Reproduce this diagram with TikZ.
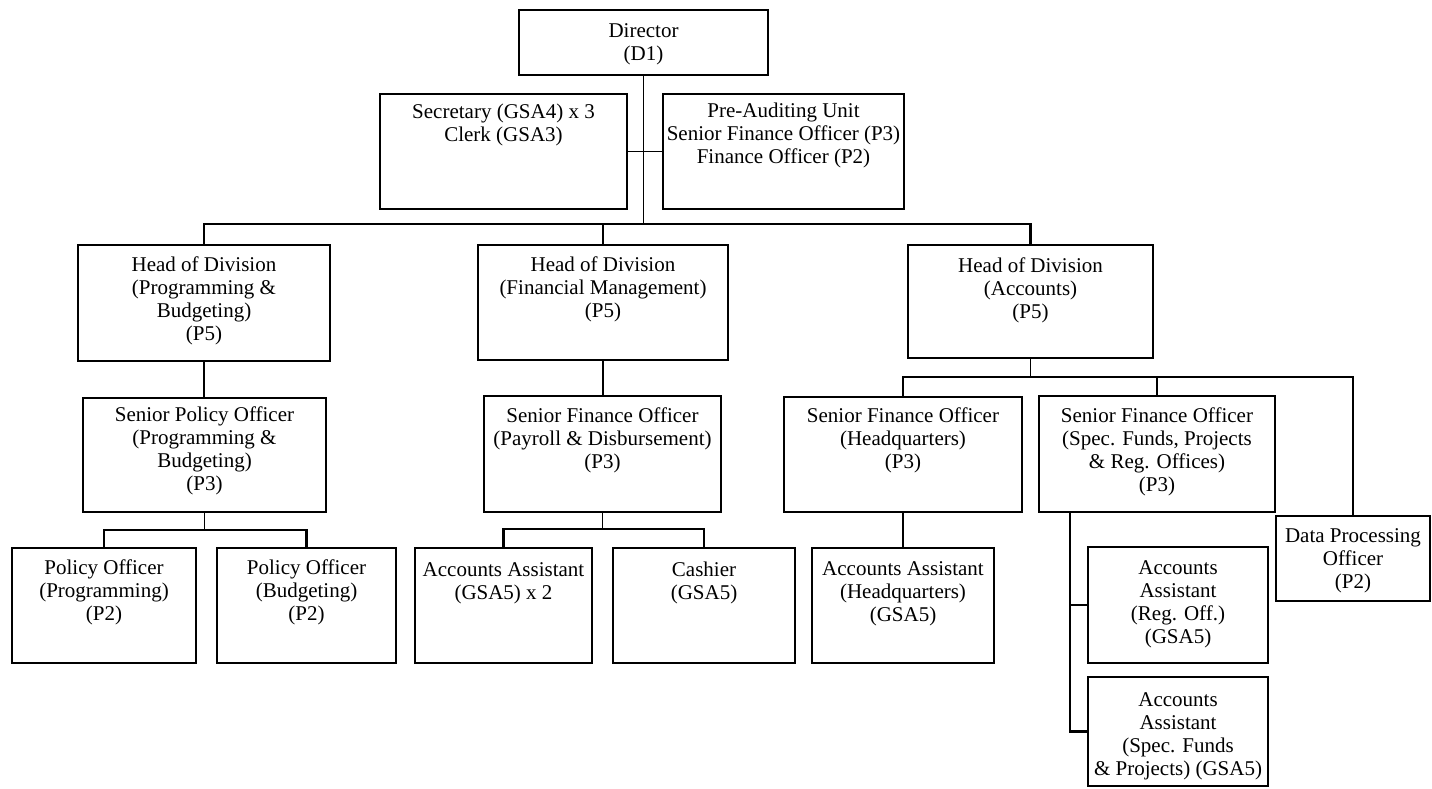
\documentclass[tikz,border=0pt]{standalone}
\usepackage{fontspec}
\setmainfont{Liberation Serif}
\tikzset{
  box/.style={draw, line width=2pt, inner sep=0pt, outer sep=0pt},
  txt/.style={align=center, inner sep=0pt, anchor=north, font=\fontsize{21}{23}\selectfont},
  conn/.style={line width=1.5pt},
  busline/.style={line width=2.2pt},
}
\newcommand\orgbox[7]{%
  \node[box, minimum width={#4-#2}, minimum height={#5-#3}] (#1) at ({(#2+#4)/2},{(#3+#5)/2}) {};
  \node[txt] (#1-t) at ([yshift=-#6]#1.north) {#7};}
\begin{document}
\begin{tikzpicture}[x=1pt,y=-1pt]
\useasboundingbox (0,0) rectangle (1432,788);
\orgbox{dir}{519}{10}{768}{75}{13}{Director\\(D1)}
\orgbox{sec}{380}{94}{627}{209}{10}{Secretary (GSA4) x 3\\Clerk (GSA3)}
\orgbox{pre}{663}{94}{904}{209}{9}{Pre-Auditing Unit\\Senior Finance Officer (P3)\\Finance Officer (P2)}
\orgbox{hodA}{78}{245}{330}{361}{12}{Head of Division\\(Programming \&\\Budgeting)\\(P5)}
\orgbox{hodB}{478}{245}{728}{360}{12}{Head of Division\\(Financial Management)\\(P5)}
\orgbox{hodC}{908}{245}{1153}{358}{13}{Head of Division\\(Accounts)\\(P5)}
\orgbox{spo}{83}{398}{326}{512}{9}{Senior Policy Officer\\(Programming \&\\Budgeting)\\(P3)}
\orgbox{sfoP}{484}{396}{721}{512}{12}{Senior Finance Officer\\(Payroll \& Disbursement)\\(P3)}
\orgbox{sfoH}{784}{397}{1022}{512}{11}{Senior Finance Officer\\(Headquarters)\\(P3)}
\orgbox{sfoS}{1039}{396}{1275}{512}{12}{Senior Finance Officer\\(Spec. Funds, Projects\\\& Reg. Offices)\\(P3)}
\orgbox{dpo}{1276}{516}{1430}{601}{12}{Data Processing\\Officer\\(P2)}
\orgbox{poA}{12}{548}{196}{663}{12}{Policy Officer\\(Programming)\\(P2)}
\orgbox{poB}{217}{548}{396}{663}{12}{Policy Officer\\(Budgeting)\\(P2)}
\orgbox{aaTwo}{415}{548}{592}{663}{14}{Accounts Assistant\\(GSA5) x 2}
\orgbox{cash}{613}{548}{795}{663}{14}{Cashier\\(GSA5)}
\orgbox{aaH}{812}{548}{994}{663}{13}{Accounts Assistant\\(Headquarters)\\(GSA5)}
\orgbox{aaR}{1088}{547}{1268}{663}{13}{Accounts\\Assistant\\(Reg. Off.)\\(GSA5)}
\orgbox{aaS}{1088}{677}{1268}{786}{15}{Accounts\\Assistant\\(Spec. Funds\\\& Projects) (GSA5)}
% connectors
\coordinate (busJ) at (643.5,224);
\draw[conn] (dir.south) -- (busJ);
\draw[conn] (sec.east) -- (pre.west);
\draw[busline] (hodA.north) |- (busJ) -| (hodC.north);
\draw[conn] (hodB.north) -- (hodB.north |- busJ);
\draw[conn] (hodA.south) -- (hodA.south |- spo.north);
\coordinate (jA) at (204.5,530);
\draw[conn] (spo.south) -- (jA);
\draw[busline] (poA.north) |- (jA) -| (poB.north);
\draw[conn] (hodB.south) -- (hodB.south |- sfoP.north);
\coordinate (jB) at (602.5,529);
\draw[conn] (sfoP.south) -- (jB);
\draw[busline] (aaTwo.north) |- (jB) -| (cash.north);
\coordinate (jC) at (1030.5,377);
\draw[conn] (hodC.south) -- (jC);
\draw[busline] (sfoH.north) |- (jC) -| (dpo.north);
\draw[busline] (sfoS.north) -- (sfoS.north |- jC);
\draw[conn] (sfoH.south) -- (aaH.north);
\coordinate (jS) at (1070,512);
\draw[busline] (jS) |- (aaS.west);
\draw[busline] (aaR.west) -- (aaR.west -| jS);
\end{tikzpicture}
\end{document}
